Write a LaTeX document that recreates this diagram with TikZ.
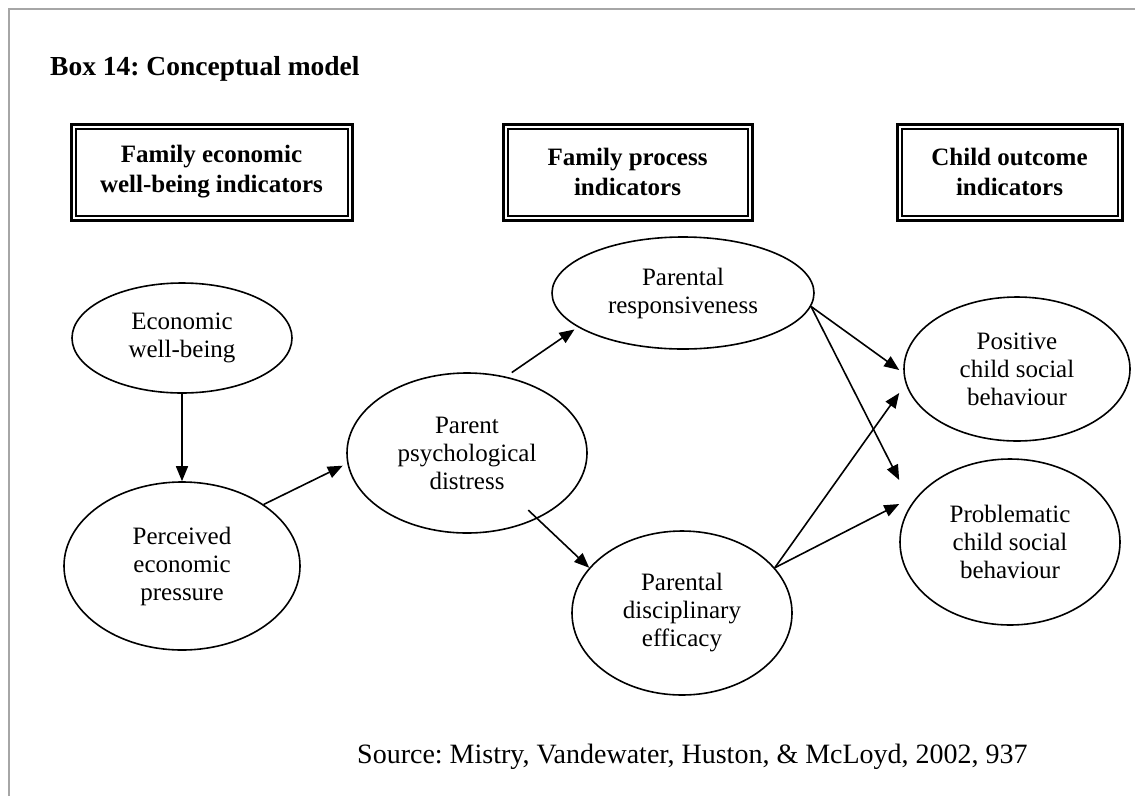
\documentclass[tikz,border=0pt]{standalone}
\usepackage{fontspec}
\setmainfont{Liberation Serif}
\usetikzlibrary{shapes.geometric,arrows.meta,calc}
\frenchspacing
\begin{document}
\begin{tikzpicture}[x=1pt,y=-1pt,
  oval/.style={ellipse,draw,line width=1.6pt,inner sep=0pt,align=center,
    font=\fontsize{25}{28}\selectfont},
  headbox/.style={rectangle,draw,line width=3pt,inner sep=0pt,align=center,
    minimum height=96pt,font=\fontsize{25}{30}\selectfont\bfseries},
  innerframe/.style={line width=2pt},
  link/.style={line width=1.6pt,-{Triangle[length=15pt,width=12pt]}},
  pageframe/.style={draw=gray!70,line width=2pt}]
\useasboundingbox (0,0) rectangle (1135,796);

% page frame (top and left edges only)
\draw[pageframe] (9,796) -- (9,9) -- (1135,9);

% title
\node[anchor=base west,inner sep=0pt,font=\fontsize{27.5}{30}\selectfont\bfseries]
  (title) at (50,75) {Box 14: Conceptual model};

% column headers with double frames
\node[headbox,minimum width=281pt] (h1) at (211.5,172) {Family economic\\well-being indicators};
\node[headbox,minimum width=249pt] (h2) at (627.5,172) {Family process\\indicators};
\node[headbox,minimum width=225pt] (h3) at (1009.5,172) {Child outcome\\indicators};
\foreach \n in {h1,h2,h3}
  \draw[innerframe] ($(\n.north west)+(6,6)$) rectangle ($(\n.south east)+(-6,-6)$);

% constructs
\node[oval,minimum width=220pt,minimum height=110pt] (ewb) at (182,338) {Economic\\well-being};
\node[oval,minimum width=236pt,minimum height=168pt] (pep) at (182,566) {Perceived\\economic\\pressure};
\node[oval,minimum width=240pt,minimum height=160pt] (ppd) at (467,453) {Parent\\psychological\\distress};
\node[oval,minimum width=262pt,minimum height=112pt] (pr)  at (683,293) {Parental\\responsiveness};
\node[oval,minimum width=220pt,minimum height=164pt] (pde) at (682,613) {Parental\\disciplinary\\efficacy};
\node[oval,minimum width=226pt,minimum height=144pt] (pcs) at (1017,369) {Positive\\child social\\behaviour};
\node[oval,minimum width=220pt,minimum height=166pt] (pcb) at (1010,542) {Problematic\\child social\\behaviour};

% paths
\draw[link] (ewb.south) -- (pep.north);
\draw[link,shorten >=5pt] (pep.37) -- (ppd.185);
\draw[link,shorten <=7pt,shorten >=4pt] (ppd.63) -- (pr.198);
\draw[link] ($(ppd.center)!0.87!(ppd.-43)$) -- (pde.154);
\draw[link] (pr.-6) -- ($(pcs.west)+(-4,1)$);
\draw[link] (pr.-6) -- ($(pcb.west)+(0,-62)$);
\draw[link] (pde.26) -- ($(pcs.west)+(-4,24)$);
\draw[link] (pde.26) -- ($(pcb.west)+(0,-38)$);

% source line
\node[anchor=base west,inner sep=0pt,font=\fontsize{28}{30}\selectfont]
  (src) at (357,763) {Source: Mistry, Vandewater, Huston, \& McLoyd, 2002, 937};
\end{tikzpicture}
\end{document}
